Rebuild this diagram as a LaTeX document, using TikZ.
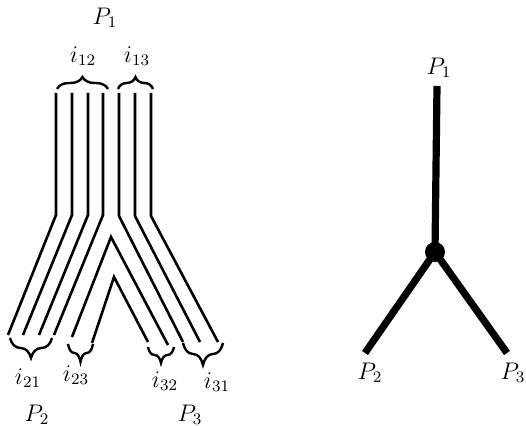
\documentclass[tikz,border=0pt]{standalone}
\usepackage{amsmath}
\usepackage{tikz}
\usetikzlibrary{decorations.pathreplacing}

\begin{document}
\begin{tikzpicture}[
    x=0.5pt, y=-0.5pt,
    strand/.style={line width=1.3pt, line join=miter},
    bracket/.style={decorate, line width=1.2pt},
    arm/.style={line width=3.6pt},
    hub/.style={circle, fill=black, inner sep=0pt, minimum size=10pt},
    every node/.style={inner sep=1pt, font=\fontsize{11.5}{13}\selectfont}
  ]
  \useasboundingbox (0,0) rectangle (526,426);

  % Left: strands between the three pieces
  \foreach \x/\ex in {56/8, 72/23, 88/39, 103/54}
    \draw[strand] (\x,93) -- (\x,215) -- (\ex,335);
  \foreach \x/\ex in {119/183, 135/200, 151/218}
    \draw[strand] (\x,93) -- (\x,216) -- (\ex,342);
  \draw[strand] (72,337) -- (111,237) -- (168,345);
  \draw[strand] (92,343) -- (114,277) -- (148,342);

  % Braces
  \draw[bracket, decoration={brace, amplitude=6pt}] (57,89) -- (108,89);
  \draw[bracket, decoration={brace, amplitude=6pt}] (118,89) -- (153,89);
  \draw[bracket, decoration={brace, amplitude=10pt}] (52,338) -- (10,338);
  \draw[bracket, decoration={brace, amplitude=9pt}] (93,344) -- (68,344);
  \draw[bracket, decoration={brace, amplitude=8pt}] (174,347) -- (148,347);
  \draw[bracket, decoration={brace, amplitude=11pt}] (223,343) -- (183,343);

  % Labels
  \node (p1l) at (105,18) {$P_1$};
  \node (i12) at (83,56) {$i_{12}$};
  \node (i13) at (137,56) {$i_{13}$};
  \node (i21) at (28,378) {$i_{21}$};
  \node (i23) at (76,375) {$i_{23}$};
  \node (i32) at (165,381) {$i_{32}$};
  \node (i31) at (217,382) {$i_{31}$};
  \node (p2l) at (37,415) {$P_2$};
  \node (p3l) at (190,415) {$P_3$};

  % Right: the tripod
  \coordinate (top)   at (437,86);
  \node[hub] (hub)    at (435,252) {};
  \coordinate (left)  at (365,353);
  \coordinate (right) at (507,353);
  \draw[arm] (top) -- (hub.center);
  \draw[arm] (hub.center) -- (left);
  \draw[arm] (hub.center) -- (right);

  \node (q1) at (439,68)  {$P_1$};
  \node (q2) at (370,373) {$P_2$};
  \node (q3) at (513,373) {$P_3$};
\end{tikzpicture}
\end{document}
